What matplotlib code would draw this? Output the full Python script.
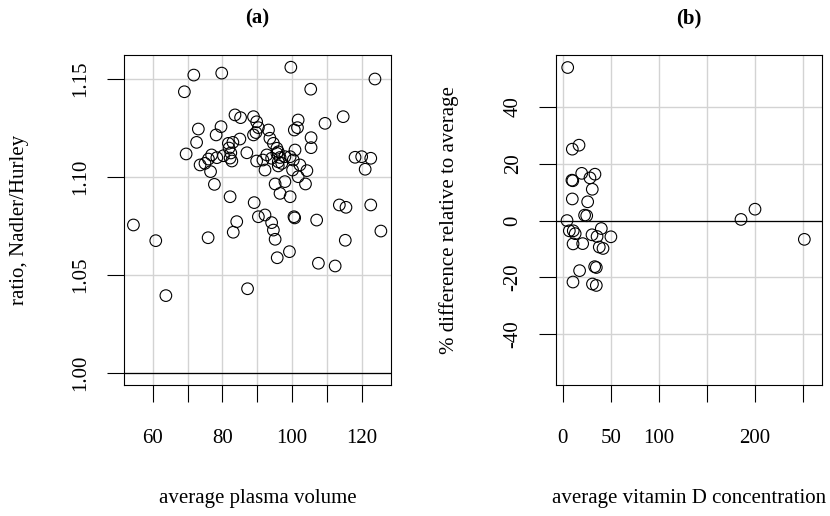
import matplotlib
matplotlib.use("Agg")
import matplotlib.pyplot as plt

plt.rcParams['font.family'] = ['Liberation Serif', 'DejaVu Serif']

# (a) ratio of Nadler to Hurley estimates vs. average plasma volume
plasma_vol = [99.6, 71.8, 79.8, 123.7, 69.1, 105.3, 83.6, 85.2, 88.9, 89.8,
              90.3, 88.9, 89.6, 101.7, 101.5, 100.6, 109.4, 114.6, 73.1, 79.6,
              78.2, 72.6, 85.0, 81.7, 83.0, 81.9, 105.4, 105.4, 93.2, 93.6,
              94.6, 95.6, 96.0, 100.8, 69.6, 87.0, 82.4, 82.2, 82.7, 80.3,
              78.4, 76.9, 76.0, 75.0, 73.6, 76.6, 77.7, 82.2, 89.8, 91.6,
              92.2, 92.7, 94.1, 95.6, 96.5, 97.0, 96.0, 97.9, 99.4, 100.3,
              96.0, 100.1, 102.2, 101.7, 104.2, 103.8, 97.9, 95.1, 96.5, 99.4,
              118.0, 119.9, 122.5, 120.9, 89.1, 113.5, 115.4, 122.5, 54.5, 60.9,
              63.8, 75.9, 84.1, 83.1, 90.3, 92.2, 94.1, 94.6, 95.1, 95.7,
              99.2, 87.2, 100.5, 100.7, 107.0, 107.5, 112.3, 115.2, 125.4]
ratio_nh = [1.156, 1.152, 1.153, 1.150, 1.1435, 1.1448, 1.1317, 1.1303, 1.1308, 1.1282,
            1.1252, 1.1215, 1.1227, 1.1291, 1.1252, 1.124, 1.1274, 1.1308, 1.1245, 1.1257,
            1.1215, 1.1177, 1.1194, 1.1172, 1.1177, 1.1148, 1.1201, 1.115, 1.124, 1.1198,
            1.1172, 1.1147, 1.1129, 1.1138, 1.1118, 1.1124, 1.1123, 1.1097, 1.1082, 1.1109,
            1.1099, 1.1113, 1.1092, 1.107, 1.1062, 1.1028, 1.0963, 1.090, 1.1082, 1.1087,
            1.1036, 1.1113, 1.1096, 1.1121, 1.110, 1.107, 1.1078, 1.1104, 1.1104, 1.1087,
            1.1057, 1.1036, 1.1062, 1.1002, 1.1033, 1.0965, 1.0977, 1.0965, 1.0917, 1.090,
            1.1101, 1.1104, 1.1096, 1.104, 1.087, 1.0858, 1.0846, 1.0858, 1.0756, 1.0676,
            1.0396, 1.0691, 1.0773, 1.0719, 1.0798, 1.0807, 1.0768, 1.073, 1.0683, 1.0589,
            1.062, 1.0431, 1.0798, 1.0792, 1.0781, 1.0561, 1.0547, 1.0678, 1.0725]

# (b) percent difference from the average vs. average vitamin D concentration
vitd_conc = [5.2, 10.0, 17.0, 9.6, 10.5, 19.8, 28.4, 33.6, 30.8, 10.0,
             26.0, 22.8, 25.0, 4.5, 6.9, 11.0, 13.0, 10.8, 20.8, 30.5,
             35.8, 40.2, 50.2, 38.1, 42.0, 17.6, 10.7, 33.3, 35.0, 31.0,
             35.0, 185.7, 200.3, 251.7]
pct_diff = [53.8, 25.1, 26.5, 14.2, 14.0, 16.6, 15.0, 16.3, 11.0, 7.6,
            6.6, 1.9, 1.7, 0.0, -3.6, -3.6, -4.6, -8.2, -8.1, -5.0,
            -5.6, -2.8, -5.7, -9.3, -9.8, -17.6, -21.6, -16.2, -16.5, -22.3,
            -22.8, 0.4, 4.0, -6.6]

a_xticks = [60, 70, 80, 90, 100, 110, 120]
a_xlabels = ['60', '', '80', '', '100', '', '120']
a_yticks = [1.00, 1.05, 1.10, 1.15]
b_xticks = [0, 50, 100, 150, 200, 250]
b_xlabels = ['0', '50', '100', '', '200', '']
b_yticks = [-40, -20, 0, 20, 40]

fig = plt.figure(figsize=(8.3, 5.16), dpi=100)
ax1 = fig.add_axes([124 / 830, 131 / 516, 267 / 830, 330 / 516])
ax2 = fig.add_axes([556 / 830, 131 / 516, 266.3 / 830, 330 / 516])

FS = 15


def style_axis(ax, xticks, xlabels, yticks, ylabels):
    ax.set_xticks(xticks)
    ax.set_xticklabels(xlabels)
    ax.set_yticks(yticks)
    ax.set_yticklabels(ylabels, rotation=90, va='center')
    ax.tick_params(axis='both', direction='out', length=12, width=0.8,
                   labelsize=FS, color='black')
    ax.tick_params(axis='x', pad=20)
    ax.tick_params(axis='y', pad=12)
    ax.grid(True, color='#d3d3d3', linewidth=1.0)
    ax.set_axisbelow(True)
    for s in ax.spines.values():
        s.set_linewidth(0.8)
        s.set_color('black')


ax1.scatter(plasma_vol, ratio_nh, s=70, facecolors='none', edgecolors='black',
            linewidths=0.8, zorder=3)
ax1.axhline(1.0, color='black', linewidth=0.9, zorder=2)
ax1.set_xlim(51.8, 128.3)
ax1.set_ylim(0.99404, 1.16223)
style_axis(ax1, a_xticks, a_xlabels, a_yticks, ['1.00', '1.05', '1.10', '1.15'])
ax1.set_title('(a)', fontsize=FS, fontweight='bold', pad=23)
ax1.set_xlabel('average plasma volume', fontsize=FS, va='center')
ax1.xaxis.set_label_coords(0.5, (385 - 498) / 330)
ax1.set_ylabel('ratio, Nadler/Hurley', fontsize=FS, va='center')
ax1.yaxis.set_label_coords((20 - 124) / 267, 0.5)

ax2.scatter(vitd_conc, pct_diff, s=70, facecolors='none', edgecolors='black',
            linewidths=0.8, zorder=3)
ax2.axhline(0, color='black', linewidth=0.9, zorder=2)
ax2.set_xlim(-6.98, 270.4)
ax2.set_ylim(-57.8, 58.2)
style_axis(ax2, b_xticks, b_xlabels, b_yticks, [str(v) for v in b_yticks])
ax2.set_title('(b)', fontsize=FS, fontweight='bold', pad=23)
ax2.set_xlabel('average vitamin D concentration', fontsize=FS, va='center')
ax2.xaxis.set_label_coords(0.5, (385 - 498) / 330)
ax2.set_ylabel('% difference relative to average', fontsize=FS, va='center')
ax2.yaxis.set_label_coords((449 - 556) / 266.3, 0.5)

fig.savefig('out.png', dpi=100)
